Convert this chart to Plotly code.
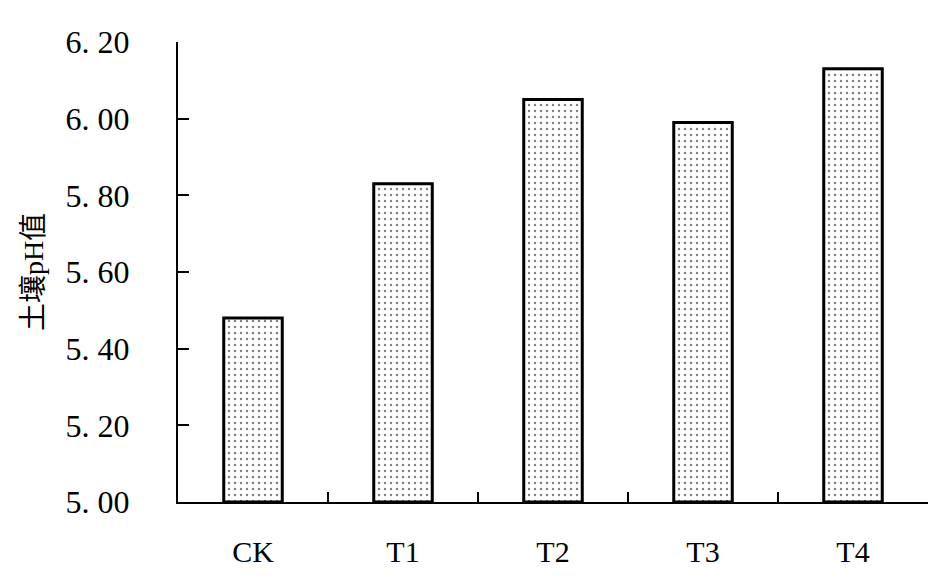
import plotly.graph_objects as go

categories = ["CK", "T1", "T2", "T3", "T4"]
ph_values = [5.48, 5.83, 6.05, 5.99, 6.13]
y_ticks = [5.0, 5.2, 5.4, 5.6, 5.8, 6.0, 6.2]
y_title = "土壤pH值"

xpos = list(range(len(categories)))
base = y_ticks[0]

fig = go.Figure(go.Bar(
    x=xpos, y=[v - base for v in ph_values], base=base, width=0.39,
    marker=dict(
        color="white",
        line=dict(color="black", width=3),
        pattern=dict(shape=".", fgcolor="black", bgcolor="white", size=6, solidity=0.12),
    ),
))

serif = "Liberation Serif, Noto Sans CJK SC"
fig.update_layout(
    width=937, height=572,
    margin=dict(l=170, r=17, t=34, b=78, autoexpand=False),
    plot_bgcolor="white", paper_bgcolor="white",
    showlegend=False,
    font=dict(family=serif, color="black"),
)
fig.update_xaxes(
    range=[-0.5, 4.5], tickmode="array", tickvals=xpos, ticktext=categories,
    ticks="", showgrid=False, zeroline=False, automargin=False,
    showline=True, linecolor="black", linewidth=2,
    tickfont=dict(size=30, family=serif), ticklabelstandoff=22,
    minor=dict(tickvals=[0.5, 1.5, 2.5, 3.5], ticks="inside", ticklen=10, tickcolor="black", tickwidth=1.5),
)
fig.update_yaxes(
    range=[5.0, 6.2], tickmode="array", tickvals=y_ticks,
    ticktext=[f"{v:.2f}".replace(".", ". ") for v in y_ticks],
    ticks="inside", ticklen=11, tickwidth=1.5, tickcolor="black",
    showgrid=False, zeroline=False, automargin=False,
    showline=True, linecolor="black", linewidth=2,
    tickfont=dict(size=32, family=serif), ticklabelstandoff=40,
    title=dict(text=y_title, font=dict(size=28, family=serif), standoff=14),
)
fig.write_html("out.html")
